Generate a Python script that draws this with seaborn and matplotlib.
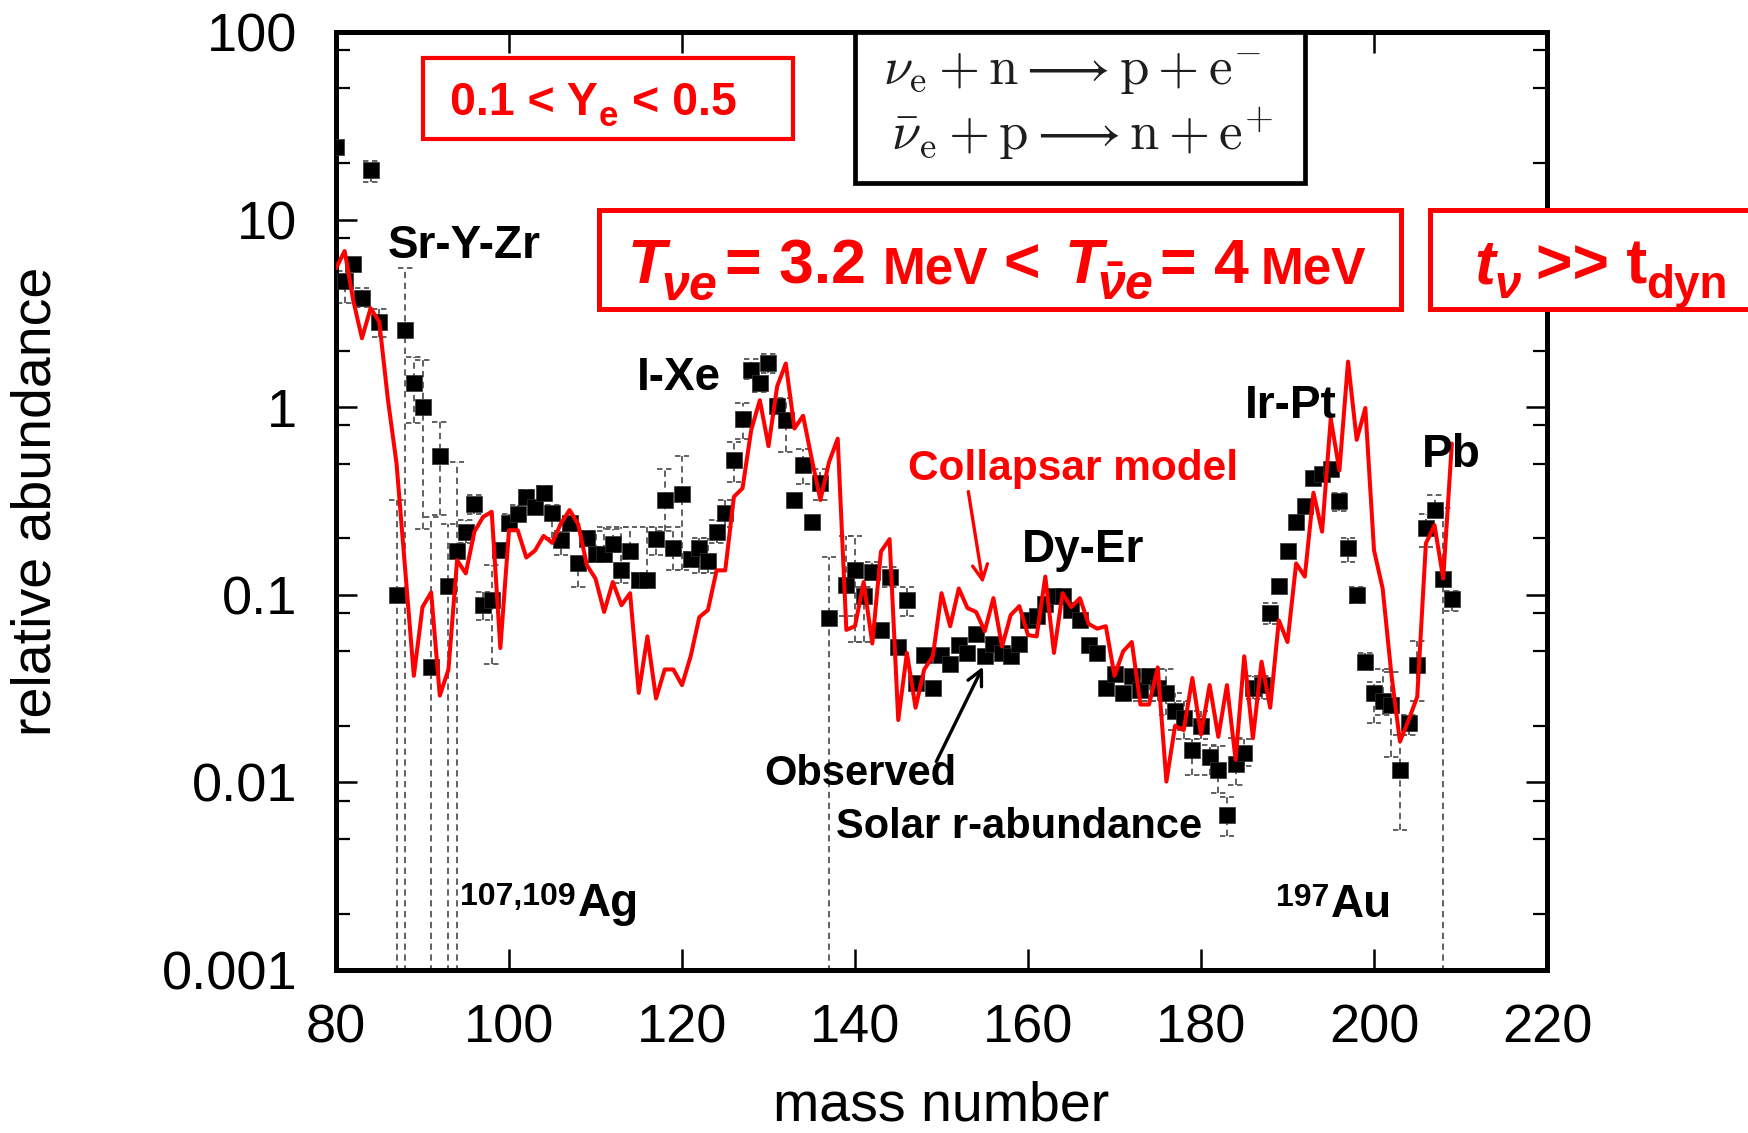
import numpy as np
import pandas as pd
import matplotlib
matplotlib.use("Agg")
import matplotlib.pyplot as plt
from matplotlib.ticker import LogLocator, FuncFormatter, NullFormatter
from matplotlib.patches import Rectangle
import seaborn as sns

# ---------------- data ----------------
obs_A = [80, 81, 82, 83, 84, 85, 87, 88, 89, 90, 91, 92, 93, 94, 95, 96, 97, 98, 99,
         100, 101, 102, 103, 104, 105, 106, 107, 108, 109, 110, 111, 112, 113, 114, 115,
         116, 117, 118, 119, 120, 121, 122, 123, 124, 125, 126, 127, 128, 129, 130, 131,
         132, 133, 134, 135, 136, 137, 139, 140, 141, 142, 143, 144, 145, 146, 147, 148,
         149, 150, 151, 152, 153, 154, 155, 156, 157, 158, 159, 160, 161, 162, 163, 164,
         165, 166, 167, 168, 169, 170, 171, 172, 173, 174, 175, 176, 177, 178, 179, 180,
         181, 182, 183, 184, 185, 186, 187, 188, 189, 190, 191, 192, 193, 194, 195, 196,
         197, 198, 199, 200, 201, 202, 203, 204, 205, 206, 207, 208, 209]
obs_val = [24.5, 4.7, 5.8, 3.8, 18.4, 2.86, 0.10, 2.58, 1.34, 1.0, 0.041, 0.55, 0.111,
           0.172, 0.217, 0.305, 0.088, 0.094, 0.173, 0.242, 0.27, 0.331, 0.292, 0.35,
           0.272, 0.196, 0.24, 0.147, 0.20, 0.166, 0.165, 0.187, 0.136, 0.172, 0.12, 0.12,
           0.198, 0.32, 0.177, 0.344, 0.156, 0.177, 0.152, 0.217, 0.272, 0.52, 0.86, 1.58,
           1.35, 1.73, 1.01, 0.85, 0.32, 0.49, 0.245, 0.396, 0.075, 0.113, 0.135, 0.098,
           0.133, 0.065, 0.124, 0.053, 0.094, 0.034, 0.048, 0.032, 0.048, 0.043, 0.054,
           0.049, 0.062, 0.047, 0.055, 0.049, 0.047, 0.055, 0.073, 0.077, 0.089, 0.099,
           0.099, 0.083, 0.073, 0.054, 0.049, 0.032, 0.038, 0.030, 0.037, 0.031, 0.037,
           0.032, 0.030, 0.024, 0.022, 0.0149, 0.020, 0.0137, 0.0116, 0.0067, 0.0126,
           0.0143, 0.032, 0.033, 0.080, 0.111, 0.172, 0.245, 0.297, 0.418, 0.44, 0.467,
           0.318, 0.177, 0.10, 0.044, 0.030, 0.027, 0.026, 0.0116, 0.0207, 0.042, 0.226,
           0.283, 0.121, 0.095]

# error bars: mass number, lower end, upper end (1e-4 = lower limit reaches below axis)
err_A = [81, 83, 84, 85, 87, 88, 89, 90, 91, 92, 93, 94, 95, 96, 97, 98, 99, 100, 101,
         102, 103, 104, 105, 106, 107, 108, 109, 110, 111, 112, 113, 114, 115, 116, 117,
         118, 119, 120, 121, 122, 123, 124, 125, 126, 127, 128, 129, 130, 131, 132, 134,
         136, 137, 139, 140, 141, 142, 144, 146, 173, 174, 175, 176, 177, 178, 179, 180,
         181, 182, 183, 184, 185, 186, 187, 188, 196, 197, 198, 199, 200, 201, 202, 203,
         204, 205, 206, 207, 208, 209]
err_lo = [3.6, 3.4, 15.9, 2.36, 1e-4, 1e-4, 0.82, 0.225, 1e-4, 0.266, 1e-4, 1e-4, 0.19,
          0.27, 0.073, 0.043, 0.16, 0.22, 0.25, 0.30, 0.27, 0.32, 0.20, 0.163, 0.22, 0.11,
          0.18, 0.15, 0.15, 0.17, 0.115, 0.155, 0.11, 0.11, 0.163, 0.22, 0.135, 0.136,
          0.14, 0.13, 0.13, 0.19, 0.23, 0.40, 0.68, 1.41, 1.2, 1.52, 0.93, 0.58, 0.39,
          0.32, 1e-4, 0.077, 0.056, 0.056, 0.12, 0.11, 0.077, 0.027, 0.027, 0.027, 0.023,
          0.019, 0.017, 0.0109, 0.017, 0.0109, 0.0088, 0.0052, 0.0097, 0.0123, 0.028,
          0.028, 0.07, 0.28, 0.15, 0.09, 0.04, 0.0207, 0.023, 0.0137, 0.0056, 0.018,
          0.027, 0.18, 0.26, 1e-4, 0.082]
err_hi = [5.3, 4.3, 20.6, 3.33, 0.32, 5.5, 1.85, 1.78, 0.26, 0.83, 0.237, 0.51, 0.25,
          0.34, 0.103, 0.145, 0.19, 0.27, 0.30, 0.36, 0.32, 0.38, 0.30, 0.22, 0.26, 0.16,
          0.22, 0.22, 0.23, 0.225, 0.23, 0.23, 0.13, 0.23, 0.23, 0.47, 0.23, 0.55, 0.17,
          0.20, 0.20, 0.25, 0.32, 0.65, 1.05, 1.8, 1.41, 1.93, 1.1, 1.12, 0.6, 0.47, 0.16,
          0.206, 0.206, 0.11, 0.15, 0.14, 0.11, 0.04, 0.04, 0.04, 0.04, 0.03, 0.027,
          0.017, 0.024, 0.0158, 0.0157, 0.0084, 0.0173, 0.017, 0.037, 0.037, 0.09, 0.35,
          0.20, 0.11, 0.049, 0.0345, 0.04, 0.039, 0.018, 0.023, 0.057, 0.27, 0.34, 0.29,
          0.105]

model_A = list(range(80, 210))
model_val = [5.5, 6.8, 3.7, 2.33, 3.37, 2.86, 1.1, 0.50, 0.135, 0.037, 0.086, 0.103,
             0.029, 0.040, 0.153, 0.13, 0.217, 0.26, 0.277, 0.052, 0.221, 0.221, 0.158,
             0.172, 0.206, 0.189, 0.24, 0.283, 0.238, 0.144, 0.122, 0.081, 0.117, 0.088,
             0.102, 0.030, 0.060, 0.028, 0.040, 0.040, 0.033, 0.047, 0.076, 0.083, 0.135,
             0.135, 0.333, 0.37, 0.755, 1.09, 0.62, 1.29, 1.71, 0.77, 0.90, 0.53, 0.32,
             0.51, 0.68, 0.065, 0.068, 0.117, 0.055, 0.17, 0.198, 0.0215, 0.049, 0.025,
             0.040, 0.047, 0.102, 0.068, 0.108, 0.085, 0.081, 0.064, 0.096, 0.053, 0.078,
             0.087, 0.061, 0.060, 0.125, 0.049, 0.102, 0.086, 0.096, 0.070, 0.066, 0.068,
             0.037, 0.050, 0.056, 0.026, 0.026, 0.041, 0.0101, 0.020, 0.019, 0.036, 0.018,
             0.033, 0.0175, 0.033, 0.0132, 0.047, 0.0172, 0.044, 0.025, 0.073, 0.056,
             0.147, 0.125, 0.35, 0.217, 0.87, 0.46, 1.75, 0.67, 0.99, 0.173, 0.108, 0.038,
             0.0165, 0.0215, 0.0286, 0.188, 0.235, 0.122, 0.64]

x_ticks = [80, 100, 120, 140, 160, 180, 200, 220]
peak_labels = [("Sr-Y-Zr", 388, 258), ("I-Xe", 637, 390), ("Dy-Er", 1022, 562),
               ("Ir-Pt", 1245, 418), ("Pb", 1422, 467)]

# ---------------- style ----------------
sns.set_theme(style="ticks")
plt.rcParams["font.family"] = ["Liberation Sans", "DejaVu Sans"]
plt.rcParams["mathtext.fontset"] = "custom"
plt.rcParams["mathtext.rm"] = "Liberation Sans:bold"
plt.rcParams["mathtext.it"] = "Liberation Sans:italic:bold"
plt.rcParams["mathtext.bf"] = "Liberation Sans:bold"

W, H = 1748, 1133
fig = plt.figure(figsize=(W / 100, H / 100), dpi=100)
fig.patch.set_facecolor("white")
ax = fig.add_axes([336 / W, 1 - 970 / H, (1547 - 336) / W, (970 - 32) / H])
ax.set_facecolor("white")

obs_df = pd.DataFrame({"A": obs_A, "abund": obs_val})
model_df = pd.DataFrame({"A": model_A, "abund": model_val})

# error bars (dashed grey)
elo = np.array(err_lo)
ehi = np.array(err_hi)
eA = np.array(err_A, dtype=float)
ax.vlines(eA, elo, ehi, colors="#555555", linestyles=(0, (3.5, 2.5)), lw=1.3, zorder=2)
ax.hlines(ehi, eA - 0.85, eA + 0.85, colors="#555555", linestyles=(0, (3, 2)), lw=1.3, zorder=2)
ax.hlines(elo, eA - 0.85, eA + 0.85, colors="#555555", linestyles=(0, (3, 2)), lw=1.3, zorder=2)

sns.scatterplot(data=obs_df, x="A", y="abund", marker="s", s=135, color="black",
                edgecolor="#333333", linewidth=0.5, ax=ax, zorder=3, legend=False)
sns.lineplot(data=model_df, x="A", y="abund", color="#ff0000", lw=2.9, ax=ax,
             estimator=None, sort=False, zorder=4, legend=False)

ax.set_yscale("log")
ax.set_xlim(80, 220)
ax.set_ylim(1e-3, 100)
ax.set_xticks(x_ticks)
ax.yaxis.set_major_locator(LogLocator(base=10, numticks=10))
ax.yaxis.set_minor_locator(LogLocator(base=10, subs=(2, 5, 8), numticks=20))
ax.yaxis.set_major_formatter(FuncFormatter(lambda v, p: "%g" % v))
ax.yaxis.set_minor_formatter(NullFormatter())
ax.tick_params(which="both", direction="in", top=True, right=True, colors="black")
ax.tick_params(which="major", length=15, width=1.8)
ax.tick_params(which="minor", length=10, width=1.6)
ax.tick_params(axis="x", labelsize=39, pad=24)
ax.tick_params(axis="y", labelsize=39, pad=28)
for sp in ax.spines.values():
    sp.set_visible(True)
    sp.set_linewidth(3.6)
    sp.set_color("black")

ax.set_xlabel("mass number", fontsize=40, color="black")
ax.set_ylabel("relative abundance", fontsize=40, color="black")
ax.xaxis.set_label_coords(0.5, -0.118)
ax.yaxis.set_label_coords(-0.226, 0.5)


def fx(x):
    return x / W


def fy(y):
    return 1 - y / H


# peak labels
for s, x, y in peak_labels:
    fig.text(fx(x), fy(y), s, fontsize=33, fontweight="bold", color="black",
             ha="left", va="baseline")

fig.text(fx(908), fy(480), "Collapsar model", fontsize=30.5, fontweight="bold",
         color="#ff0000", ha="left", va="baseline")
fig.text(fx(764), fy(785), "Observed", fontsize=30, fontweight="bold", color="black",
         ha="left", va="baseline")
fig.text(fx(836), fy(838), "Solar r-abundance", fontsize=30, fontweight="bold",
         color="black", ha="left", va="baseline")

# arrows
ax.annotate("", xy=(154.8, 0.0414), xytext=(149.4, 0.0129),
            arrowprops=dict(arrowstyle="->,head_length=0.9,head_width=0.45", color="black",
                            lw=2.4, shrinkA=0, shrinkB=0), zorder=6)
ax.annotate("", xy=(154.8, 0.115), xytext=(153.1, 0.355),
            arrowprops=dict(arrowstyle="->,head_length=0.9,head_width=0.45", color="#ff0000",
                            lw=2.4, shrinkA=0, shrinkB=0), zorder=6)

renderer = fig.canvas.get_renderer()


def chain(pieces, x0, base, color, z=12):
    x = x0
    for s, size, weight, style, dy, gap in pieces:
        t = fig.text(fx(x), fy(base + dy), s, fontsize=size, fontweight=weight,
                     fontstyle=style, color=color, ha="left", va="baseline", zorder=z)
        bb = t.get_window_extent(renderer)
        x = bb.x1 + gap


# isotope labels
chain([("107,109", 23, "bold", "normal", -11, 2), ("Ag", 33, "bold", "normal", 0, 0)],
      460, 916, "black")
chain([("197", 23, "bold", "normal", -11, 2), ("Au", 33, "bold", "normal", 0, 0)],
      1276, 917, "black")


# boxes (figure pixel coordinates)
def box(x0, y0, x1, y1, color, lw):
    r = Rectangle((fx(x0), fy(y1)), fx(x1) - fx(x0), fy(y0) - fy(y1),
                  transform=fig.transFigure, fill=True, facecolor="white",
                  edgecolor=color, lw=lw, zorder=10, clip_on=False)
    fig.add_artist(r)
    return r


box(423, 58, 793, 139, "#ff0000", 3.0)
box(855, 32, 1305, 183, "black", 3.4)
box(599, 210, 1401, 309, "#ff0000", 3.6)
box(1430, 210, 1760, 309, "#ff0000", 3.6)

chain([("0.1 < Y", 33.5, "bold", "normal", 0, 1), ("e", 25, "bold", "normal", 11, 14),
       ("< 0.5", 33.5, "bold", "normal", 0, 0)], 450, 115, "#ff0000")

chain([("T", 45, "bold", "italic", 0, -5), (r"$\nu e$", 36, "bold", "normal", 17, 8),
       ("= 3.2", 45, "bold", "normal", 0, 16), ("MeV", 37, "bold", "normal", 0, 16),
       ("<", 45, "bold", "normal", 0, 24), ("T", 45, "bold", "italic", 0, -5),
       (r"$\bar{\nu}e$", 36, "bold", "normal", 17, 6), ("= 4", 45, "bold", "normal", 0, 12),
       ("MeV", 37, "bold", "normal", 0, 0)], 628, 283, "#ff0000")

chain([("t", 45, "bold", "italic", 0, -1), (r"$\nu$", 34, "bold", "normal", 15, 14),
       (">> t", 45, "bold", "normal", 0, -1), ("dyn", 33, "bold", "normal", 15, 0)],
      1474, 283, "#ff0000")

for s, xc, yb in [(r"$\nu_{\rm e} + {\rm n} \longrightarrow {\rm p} + {\rm e}^{-}$", 1072, 84),
                  (r"$\bar{\nu}_{\rm e} + {\rm p} \longrightarrow {\rm n} + {\rm e}^{+}$", 1082, 150)]:
    fig.text(fx(xc), fy(yb), s, fontsize=38, color="#1e1e1e", ha="center", va="baseline",
             math_fontfamily="cm", zorder=12)

fig.savefig("out.png", dpi=100, facecolor="white")
